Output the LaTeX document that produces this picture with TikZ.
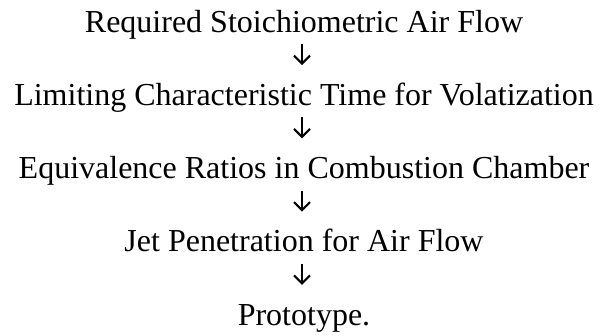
\documentclass[tikz,border=0pt]{standalone}
\usepackage{fontspec}
\setmainfont{Liberation Serif}
\usetikzlibrary{arrows.meta}
\tikzset{
  line/.style={anchor=base, inner sep=0pt, font=\fontsize{32}{38}\selectfont, text height=22pt, text depth=7pt},
  arr/.style={line width=1.8pt, shorten <=5pt, shorten >=18pt,
     -{Straight Barb[length=8pt,width=16pt,line width=2pt]}},
}
\begin{document}
\begin{tikzpicture}[x=1pt,y=1pt]
\useasboundingbox (0,0) rectangle (599,-335);
\node[line] (l1) at (304,-32) {Required Stoichiometric Air Flow};
\node[line] (l2) at (304,-105.25) {Limiting Characteristic Time for Volatization};
\node[line] (l3) at (304,-178.5) {Equivalence Ratios in Combustion Chamber};
\node[line] (l4) at (304,-251.75) {Jet Penetration for Air Flow};
\node[line] (l5) at (304,-325) {Prototype.};
\draw[arr] ([xshift=-2pt]l1.south) -- ([xshift=-2pt]l2.north);
\draw[arr] ([xshift=-2pt]l2.south) -- ([xshift=-2pt]l3.north);
\draw[arr] ([xshift=-2pt]l3.south) -- ([xshift=-2pt]l4.north);
\draw[arr] ([xshift=-2pt]l4.south) -- ([xshift=-2pt]l5.north);
\end{tikzpicture}
\end{document}
